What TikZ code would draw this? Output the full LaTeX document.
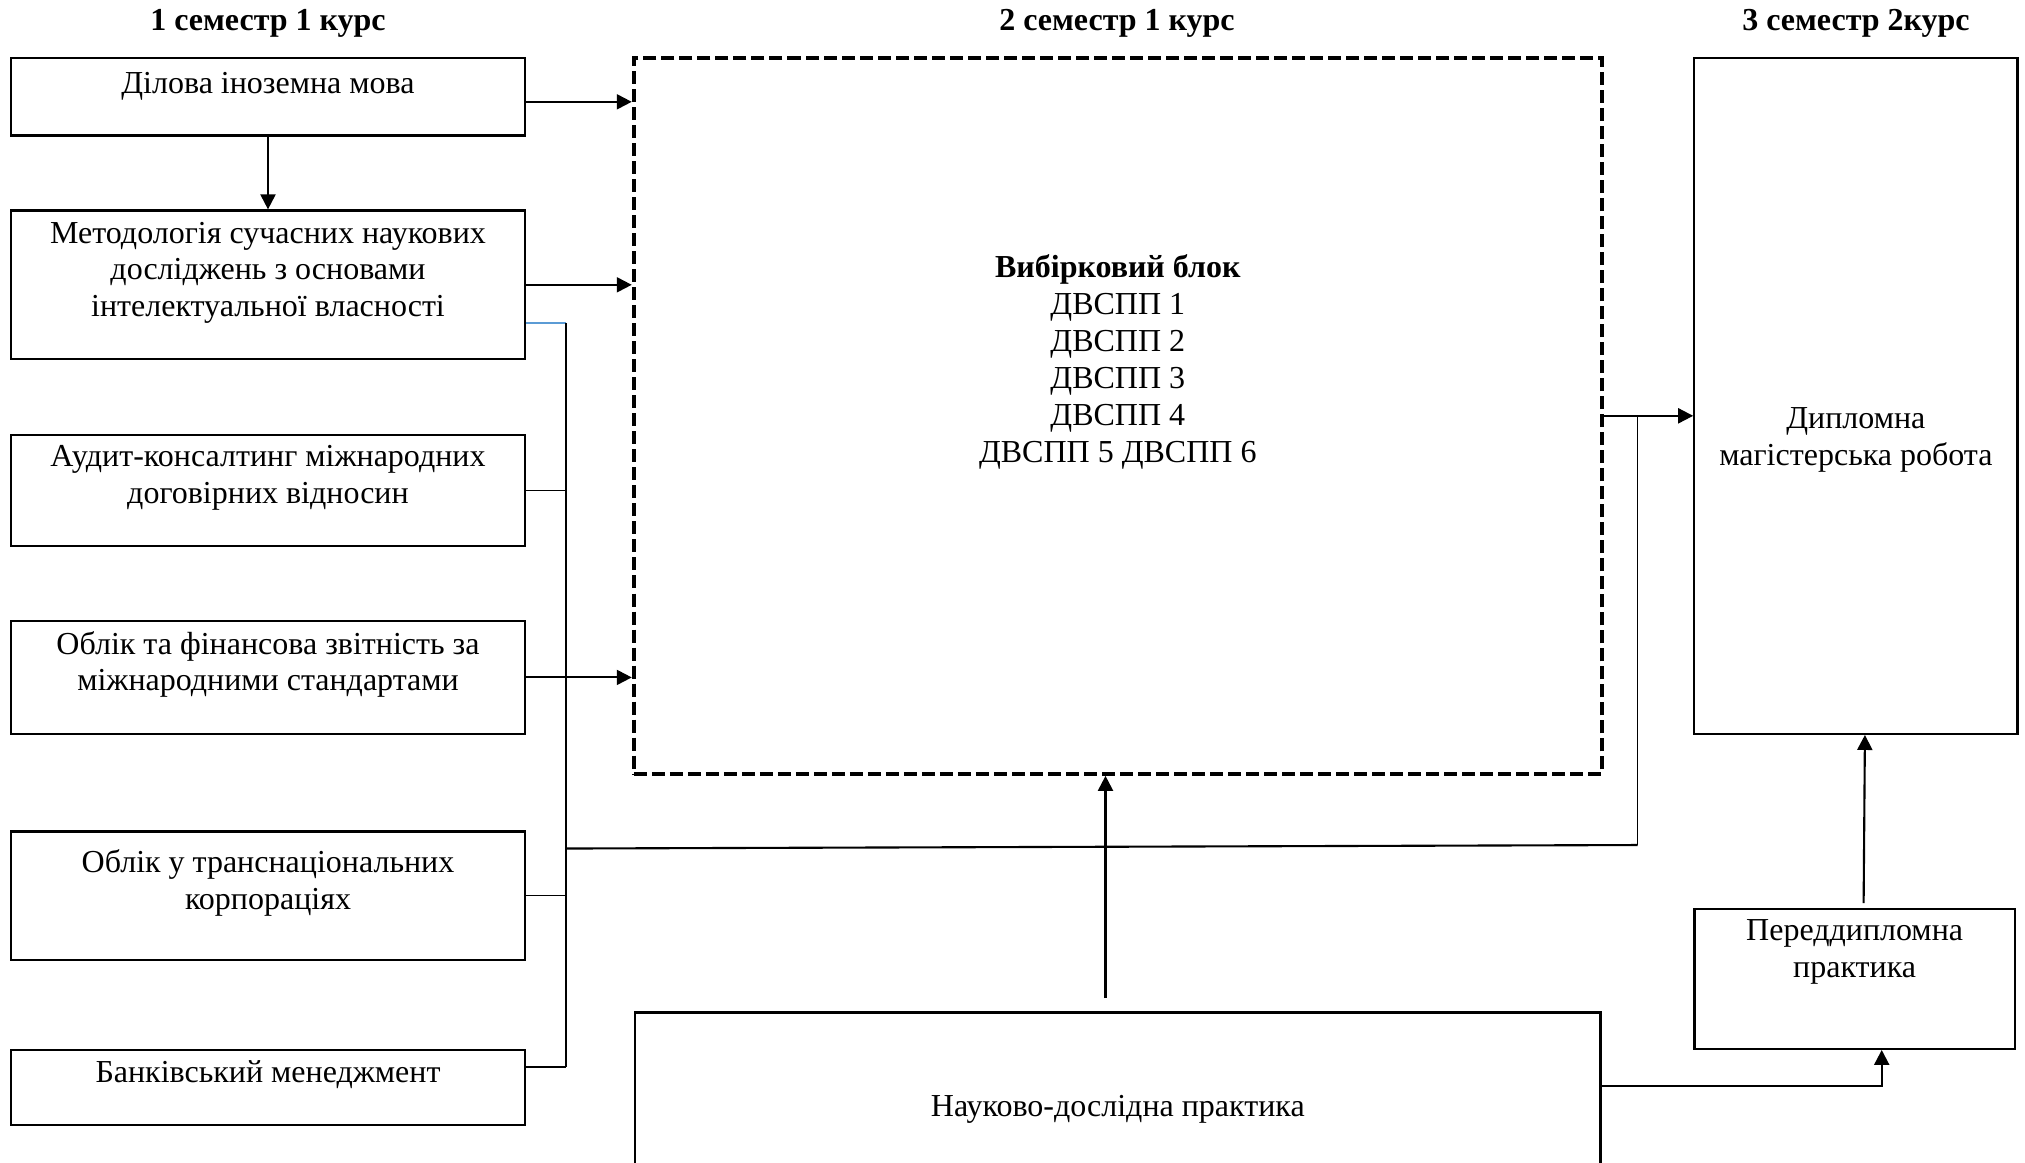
\documentclass[tikz,border=0pt]{standalone}
\usepackage{fontspec}
\setmainfont{Liberation Serif}
\usetikzlibrary{arrows.meta,positioning}

\definecolor{busBlue}{RGB}{91,155,213}

\begin{document}
\begin{tikzpicture}[x=0.01cm,y=-0.01cm,
                font=\fontsize{9.1}{10.5}\selectfont,
                course/.style={draw,line width=0.65pt,minimum width=5.13cm,inner sep=0pt},
                txt/.style={align=center,inner sep=0pt},
                sem/.style={font=\fontsize{9.1}{10.5}\selectfont\bfseries},
                elective/.style={draw,line width=1.15pt,dash pattern=on 1.3mm off 0.5mm,
                             minimum width=9.675cm,minimum height=7.156cm,inner sep=0pt},
                link/.style={line width=0.6pt,-{Triangle[length=1.5mm,width=1.5mm]}},
                bus/.style={line width=0.45pt}
            ]
                \useasboundingbox (0,0) rectangle (2025,1162);

                % semesters
                \node[sem] (sem1) at (268,23) {1 семестр 1 курс};
                \node[sem] (sem2) at (1117,23) {2 семестр 1 курс};
                \node[sem] (sem3) at (1856,23) {3 семестр 2курс};

                % first semester courses
                \node[course,minimum height=0.776cm,label={[txt,yshift=0.11cm]center:Ділова іноземна мова}] (dilova) at (268,96.8) {};
                \node[course,minimum height=1.485cm,label={[txt,yshift=0.12cm]center:{Методологія сучасних наукових\\досліджень з основами\\інтелектуальної власності}}] (metod) at (268,284.8) {};
                \node[course,minimum height=1.11cm,label={[txt,yshift=0.13cm]center:{Аудит-консалтинг міжнародних\\договірних відносин}}] (audit) at (268,490.6) {};
                \node[course,minimum height=1.124cm,label={[txt,yshift=0.13cm]center:{Облік та фінансова звітність за\\міжнародними стандартами}}] (oblik) at (268,677.4) {};
                \node[course,minimum height=1.28cm,label={[txt,yshift=0.13cm]center:{Облік у транснаціональних\\корпораціях}}] (tnk) at (268,895.6) {};
                \node[course,minimum height=0.75cm,label={[txt,yshift=0.13cm]center:Банківський менеджмент}] (bank) at (268,1087.5) {};

                % elective block
                \node[elective,label={[txt,yshift=0.54cm]center:{\textbf{Вибірковий блок}\\ДВСПП 1\\ДВСПП 2\\ДВСПП 3\\ДВСПП 4\\ДВСПП 5 ДВСПП 6}}] (vybir) at (1117.8,415.8) {};

                % practice and thesis
                \node[course,minimum width=9.65cm,minimum height=3cm,label={[txt,anchor=center,yshift=-0.98cm]north:Науково-дослідна практика}] (nauk) at (1117.8,1162.5) {};
                \node[course,minimum width=3.23cm,minimum height=6.756cm,label={[txt,yshift=-0.44cm]center:{Дипломна\\магістерська робота}}] (dyplom) at (1855.9,395.8) {};
                \node[course,minimum width=3.2cm,minimum height=1.395cm,label={[txt,yshift=0.27cm]center:{Переддипломна\\практика}}] (peredd) at (1854.6,979) {};

                \coordinate (busTop) at (565.7,322.9);
                \coordinate (busBot) at (565.7,1066.8);
                \coordinate (busMid) at (565.7,848.5);
                \coordinate (rise) at (1637.6,845);
                \coordinate (naukIn) at (1105.5,998);
                \coordinate (turn) at (1881.7,1086);

                \draw[link] ([yshift=-0.05cm]dilova.east) -- ([yshift=-0.05cm]dilova.east -| vybir.west);
                \draw[link] (dilova) -- (metod);
                \draw[link] (metod.east) -- (metod.east -| vybir.west);
                \draw[link] (oblik.east) -- (oblik.east -| vybir.west);

                % collecting line
                \draw[bus,busBlue] (metod.east |- busTop) -- (busTop);
                \draw[bus] (busTop) -- (busBot);
                \draw[bus] (audit.east) -- (audit.east -| busTop);
                \draw[bus] (tnk.east) -- (tnk.east -| busTop);
                \draw[bus] (bank.east |- busBot) -- (busBot);
                \draw[line width=0.6pt] (busMid) -- (rise);
                \draw[bus] (rise) -- (rise |- vybir.east);

                \draw[link] (vybir.east) -- (vybir.east -| dyplom.west);
                \draw[link] (naukIn) -- (naukIn |- vybir.south);
                \draw[link] (nauk.east |- turn) -- (turn) -- (turn |- peredd.south);
                \draw[link] ([xshift=0.09cm,yshift=0.05cm]peredd.north) -- ([xshift=0.09cm]dyplom.south);
            \end{tikzpicture}
\end{document}
